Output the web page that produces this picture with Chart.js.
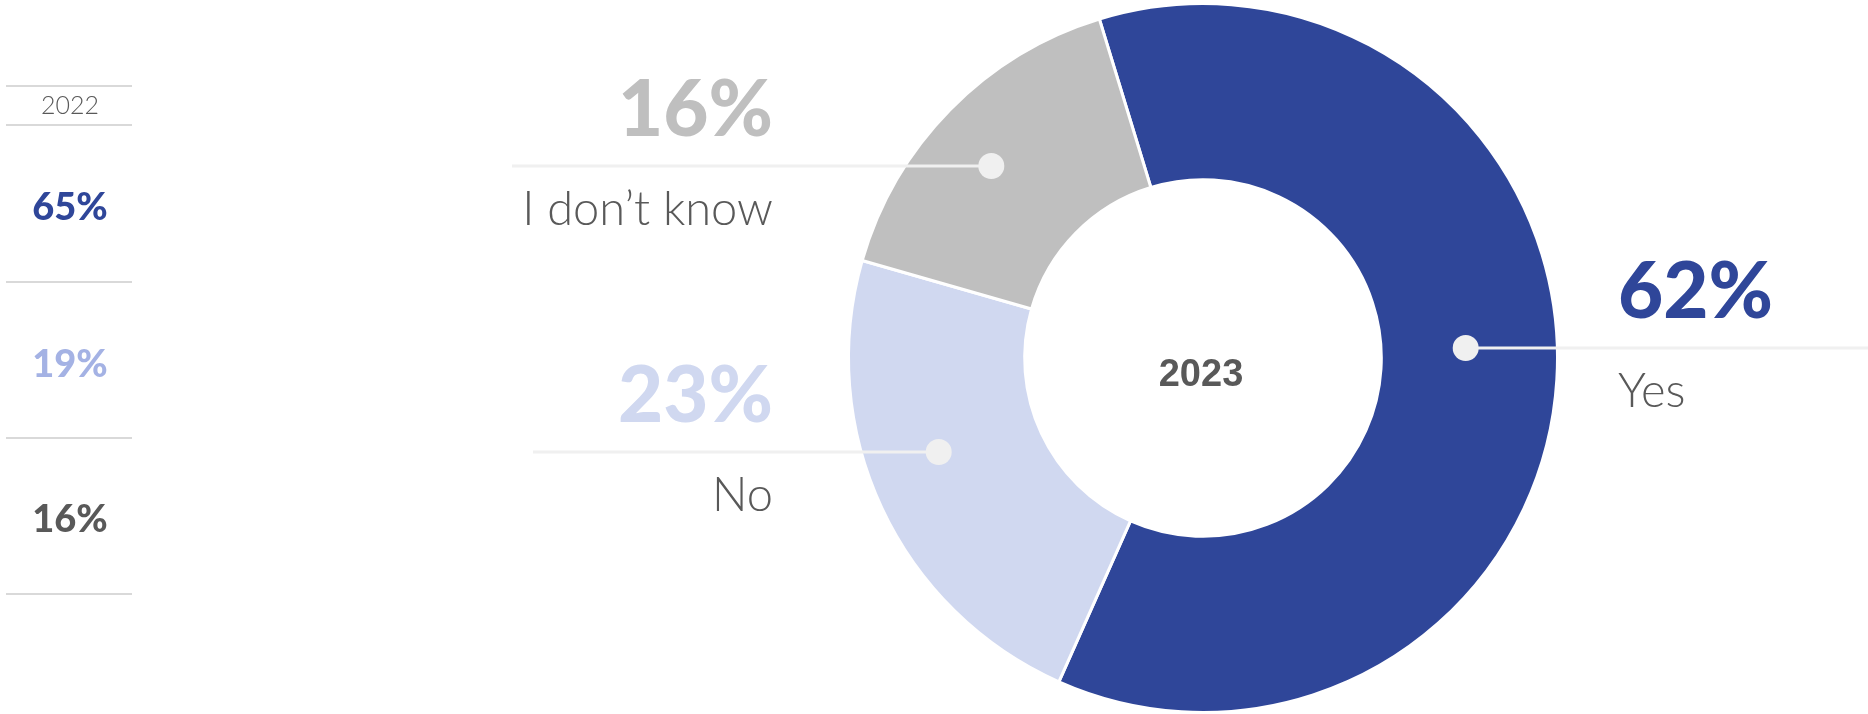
<!DOCTYPE html>
<html>
<head>
<meta charset="utf-8">
<script src="https://cdn.jsdelivr.net/npm/chart.js@4/dist/chart.umd.min.js"></script>
<style>
  html, body { margin: 0; padding: 0; background: #fff; }
  #wrap { width: 1868px; height: 714px; position: relative; }
</style>
</head>
<body>
<div id="wrap"><canvas id="grafica" width="1868" height="714"></canvas></div>
<script>
// Datos
const categorias = ["Yes", "No", "I don\u2019t know"];
const valores2023 = [62, 23, 16];
const valores2022 = [65, 19, 16];
const anioActual = "2023";
const anioAnterior = "2022";

const colores = ["#2F4699", "#D0D8F0", "#BFBFBF"];
const coloresPrevios = ["#2F4699", "#A4B2E4", "#595959"];
const gris = "#595959";

// Posiciones de las etiquetas (dy respecto al centro, fracción del anillo)
const callouts = [
  { dy: -10, frac: 0.48, lado: "right", textoX: 1618, lineaHasta: 1868 },
  { dy: 94, frac: 0.58, lado: "left", textoX: 773, lineaHasta: 533 },
  { dy: -192, frac: 0.61, lado: "left", textoX: 773, lineaHasta: 512 },
];

const fuente = "Lato, 'Open Sans', sans-serif";

// Plugin para dibujar textos y líneas
const etiquetasPlugin = {
  id: "etiquetas",
  afterDatasetsDraw(chart) {
    const ctx = chart.ctx;
    const arcos = chart.getDatasetMeta(0).data;
    const cx = arcos[0].x;
    const cy = arcos[0].y;
    const rIn = arcos[0].innerRadius;
    const rOut = arcos[0].outerRadius;

    ctx.save();
    callouts.forEach((c, i) => {
      const r = rIn + c.frac * (rOut - rIn);
      const y = cy + c.dy;
      const dx = Math.sqrt(r * r - c.dy * c.dy);
      const x = c.lado === "right" ? cx + dx : cx - dx;

      ctx.strokeStyle = "#F0F0F0";
      ctx.lineWidth = 3;
      ctx.beginPath();
      ctx.moveTo(x, y);
      ctx.lineTo(c.lineaHasta, y);
      ctx.stroke();

      ctx.fillStyle = "#F0F0F0";
      ctx.beginPath();
      ctx.arc(x, y, 13, 0, Math.PI * 2);
      ctx.fill();

      ctx.textAlign = c.lado === "right" ? "left" : "right";
      ctx.textBaseline = "alphabetic";
      ctx.fillStyle = colores[i];
      ctx.font = "900 78px " + fuente;
      ctx.fillText(valores2023[i] + "%", c.textoX, y - 30);

      ctx.fillStyle = gris;
      ctx.font = "300 47px " + fuente;
      ctx.fillText(categorias[i], c.textoX, y + 59);
    });

    // Año en el centro
    ctx.textAlign = "center";
    ctx.fillStyle = gris;
    ctx.font = "bold 38px 'Liberation Sans', Arial, sans-serif";
    ctx.fillText(anioActual, cx - 2, cy + 28);

    // Columna 2022
    ctx.strokeStyle = "#D9D9D9";
    ctx.lineWidth = 2;
    [86, 125, 282, 438, 594].forEach((ly) => {
      ctx.beginPath();
      ctx.moveTo(6, ly);
      ctx.lineTo(132, ly);
      ctx.stroke();
    });
    ctx.fillStyle = gris;
    ctx.font = "300 25px " + fuente;
    ctx.fillText(anioAnterior, 70, 114);
    const filas = [220, 377, 532];
    valores2022.forEach((v, i) => {
      ctx.fillStyle = coloresPrevios[i];
      ctx.font = "900 38px " + fuente;
      ctx.fillText(v + "%", 70, filas[i]);
    });
    ctx.restore();
  },
};

const chart = new Chart(document.getElementById("grafica").getContext("2d"), {
  type: "doughnut",
  data: {
    labels: categorias,
    datasets: [
      {
        data: valores2023,
        backgroundColor: colores,
        borderColor: "#FFFFFF",
        borderWidth: 3,
      },
    ],
  },
  options: {
    responsive: false,
    animation: false,
    rotation: -17,
    cutout: "50.3%",
    layout: { padding: { left: 847, right: 309, top: 2, bottom: 0 } },
    plugins: {
      legend: { display: false },
      tooltip: { enabled: false },
    },
  },
  plugins: [etiquetasPlugin],
});
</script>
</body>
</html>
